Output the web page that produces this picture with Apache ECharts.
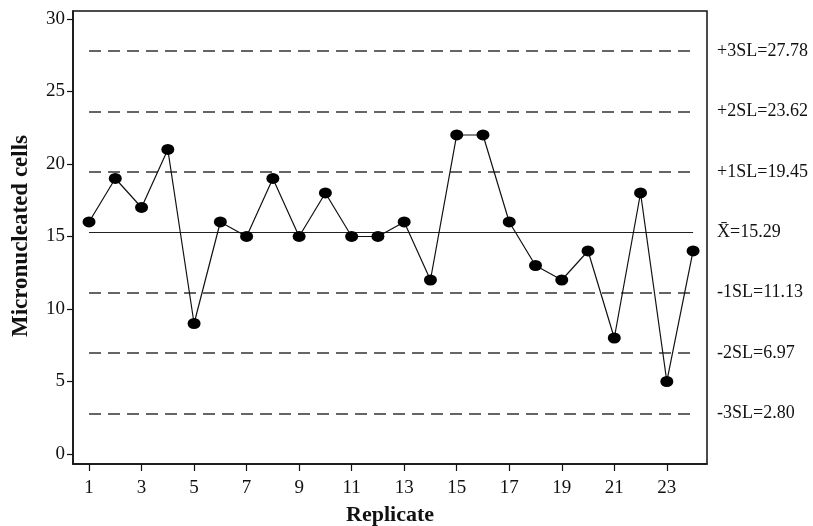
<!DOCTYPE html>
<html>
<head>
<meta charset="utf-8">
<script src="https://cdn.jsdelivr.net/npm/echarts@6/dist/echarts.min.js"></script>
<style>
  html, body { margin: 0; padding: 0; background: #fff; }
  #chart { width: 813px; height: 526px; }
</style>
</head>
<body>
<div id="chart"></div>
<script>
// replicate number and observed counts
var replicates = [1, 2, 3, 4, 5, 6, 7, 8, 9, 10, 11, 12, 13, 14, 15, 16, 17, 18, 19, 20, 21, 22, 23, 24];
var cells = [16, 19, 17, 21, 9, 16, 15, 19, 15, 18, 15, 15, 16, 12, 22, 22, 16, 13, 12, 14, 8, 18, 5, 14];

// control limits
var limitValues = [27.78, 23.62, 19.45, 15.29, 11.13, 6.97, 2.80];
var limitLabels = ['+3SL=27.78', '+2SL=23.62', '+1SL=19.45', 'X\u0304=15.29', '-1SL=11.13', '-2SL=6.97', '-3SL=2.80'];

var xTicks = [1, 3, 5, 7, 9, 11, 13, 15, 17, 19, 21, 23];
var yTicks = [0, 5, 10, 15, 20, 25, 30];

var font = '"Liberation Serif", "Times New Roman", serif';

var chart = echarts.init(document.getElementById('chart'));

//控制线
var lines = [];
for (var i = 0; i < limitValues.length; i++) {
    var isMean = limitValues[i] === 15.29;
    lines.push([
        {
            coord: [replicates[0], limitValues[i]],
            lineStyle: {
                type: isMean ? 'solid' : [12, 7],
                width: isMean ? 1.2 : 1.6,
                color: isMean ? '#222' : '#333'
            },
            label: {
                formatter: limitLabels[i]
            }
        },
        { coord: [replicates[replicates.length - 1], limitValues[i]] }
    ]);
}

var option = {
    backgroundColor: '#fff',
    animation: false,
    textStyle: { fontFamily: font },
    grid: {
        left: 73, right: 106, top: 11, bottom: 62,
        outerBoundsMode: 'none',
        containLabel: false,
        show: true,
        borderColor: '#111',
        borderWidth: 1.5
    },
    xAxis: {
        type: 'value',
        min: 0.39,
        max: 24.53,
        name: 'Replicate',
        nameLocation: 'middle',
        nameGap: 40,
        nameTextStyle: { fontFamily: font, fontSize: 22, fontWeight: 'bold', color: '#111' },
        splitLine: { show: false },
        axisLine: { onZero: false, lineStyle: { color: '#111', width: 1.5 } },
        axisTick: { show: true, customValues: xTicks, length: 7, lineStyle: { color: '#111', width: 1.2 } },
        axisLabel: { customValues: xTicks, fontFamily: font, fontSize: 19, color: '#111', margin: 15 }
    },
    yAxis: {
        type: 'value',
        min: -0.69,
        max: 30.55,
        splitLine: { show: false },
        axisLine: { show: true, onZero: false, lineStyle: { color: '#111', width: 1.5 } },
        axisTick: { show: true, customValues: yTicks, length: 6, lineStyle: { color: '#111', width: 1.2 } },
        axisLabel: { customValues: yTicks, fontFamily: font, fontSize: 19, color: '#111', margin: 8 }
    },
    graphic: [{
        type: 'text',
        rotation: Math.PI / 2,
        x: 21,
        y: 236,
        style: {
            text: 'Micronucleated cells',
            font: 'bold 23px ' + font,
            fill: '#111',
            textAlign: 'center',
            textVerticalAlign: 'middle'
        }
    }],
    series: [{
        type: 'line',
        data: replicates.map(function (r, i) { return [r, cells[i]]; }),
        symbol: 'circle',
        symbolSize: [13, 11],
        showAllSymbol: true,
        itemStyle: { color: '#000' },
        lineStyle: { color: '#111', width: 1.2 },
        markLine: {
            silent: true,
            symbol: ['none', 'none'],
            animation: false,
            label: {
                show: true,
                position: 'end',
                distance: 24,
                fontFamily: font,
                fontSize: 18,
                color: '#111'
            },
            data: lines
        },
        z: 5
    }]
};

chart.setOption(option);
</script>
</body>
</html>
